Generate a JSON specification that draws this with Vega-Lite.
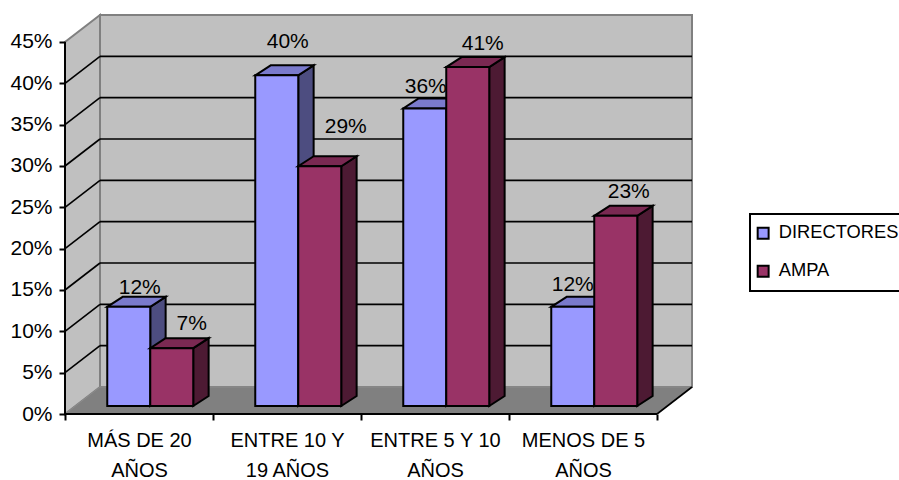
{
  "$schema": "https://vega.github.io/schema/vega-lite/v6.json",
  "width": 627,
  "height": 399,
  "autosize": {"type": "none"},
  "padding": {"left": 65, "top": 15, "right": 207, "bottom": 66},
  "background": "white",
  "config": {
    "view": {"stroke": null},
    "font": "Liberation Sans",
    "legend": {"strokeWidth": 2}
  },
  "params": [
    {"name": "fondoX", "value": 0.2365},
    {"name": "fondoY", "value": 3.266},
    {"name": "anchoBarra", "value": 0.2905},
    {"name": "margenX", "value": 0.076},
    {"name": "margenY", "value": 0.968},
    {"name": "prisX", "value": 0.104},
    {"name": "prisY", "value": 1.21}
  ],
  "datasets": {
    "respuestas": [
      {"categoria": "MÁS DE 20 AÑOS", "serie": "DIRECTORES", "valor": 12},
      {"categoria": "MÁS DE 20 AÑOS", "serie": "AMPA", "valor": 7},
      {"categoria": "ENTRE 10 Y 19 AÑOS", "serie": "DIRECTORES", "valor": 40},
      {"categoria": "ENTRE 10 Y 19 AÑOS", "serie": "AMPA", "valor": 29},
      {"categoria": "ENTRE 5 Y 10 AÑOS", "serie": "DIRECTORES", "valor": 36},
      {"categoria": "ENTRE 5 Y 10 AÑOS", "serie": "AMPA", "valor": 41},
      {"categoria": "MENOS DE 5 AÑOS", "serie": "DIRECTORES", "valor": 12},
      {"categoria": "MENOS DE 5 AÑOS", "serie": "AMPA", "valor": 23}
    ],
    "marco": [{"cara": "caja"}],
    "rejilla": [{"pct": 5}, {"pct": 10}, {"pct": 15}, {"pct": 20}, {"pct": 25}, {"pct": 30}, {"pct": 35}, {"pct": 40}]
  },
  "encoding": {
    "x": {
      "field": "gx",
      "type": "quantitative",
      "title": null,
      "scale": {"domain": [0, 4.2365], "nice": false, "zero": false},
      "axis": {
        "zindex": 1,
        "domain": false,
        "grid": false,
        "values": [0, 0.5, 1, 1.5, 2, 2.5, 3, 3.5, 4],
        "labelExpr": "datum.value==0.5?['MÁS DE 20','AÑOS']:datum.value==1.5?['ENTRE 10 Y','19 AÑOS']:datum.value==2.5?['ENTRE 5 Y 10','AÑOS']:datum.value==3.5?['MENOS DE 5','AÑOS']:''",
        "labelFontSize": 20,
        "labelColor": "black",
        "labelAngle": 0,
        "labelAlign": "center",
        "labelBaseline": "top",
        "labelLineHeight": 30,
        "labelOverlap": false,
        "labelBound": false,
        "labelFlush": false,
        "labelPadding": 10,
        "labelLimit": 300,
        "tickColor": "black",
        "tickWidth": 2,
        "tickSize": 6,
        "tickOpacity": {"condition": {"test": "datum.value%1==0", "value": 1}, "value": 0}
      }
    },
    "y": {
      "field": "gy",
      "type": "quantitative",
      "title": null,
      "scale": {"domain": [0, 48.266], "nice": false, "zero": false},
      "axis": {
        "zindex": 1,
        "domain": false,
        "grid": false,
        "values": [0, 5, 10, 15, 20, 25, 30, 35, 40, 45],
        "labelExpr": "datum.value+'%'",
        "labelFontSize": 21,
        "labelColor": "black",
        "labelOverlap": false,
        "labelBound": false,
        "labelFlush": false,
        "labelPadding": 7,
        "tickColor": "black",
        "tickWidth": 2,
        "tickSize": 6
      }
    }
  },
  "layer": [
    {
      "data": {"name": "marco"},
      "transform": [
        {"calculate": "fondoX", "as": "gx"},
        {"calculate": "4+fondoX", "as": "gx2"},
        {"calculate": "fondoY", "as": "gy"},
        {"calculate": "45+fondoY", "as": "gy2"}
      ],
      "mark": {"type": "rect", "fill": "#C0C0C0", "stroke": "#808080", "strokeWidth": 2},
      "encoding": {"x2": {"field": "gx2"}, "y2": {"field": "gy2"}}
    },
    {
      "data": {"name": "marco"},
      "transform": [
        {"calculate": "[0,1]", "as": "t"},
        {"flatten": ["t"]},
        {"calculate": "datum.t*fondoX", "as": "gx"},
        {"calculate": "datum.t*fondoY", "as": "gy"},
        {"calculate": "45+datum.t*fondoY", "as": "gy2"}
      ],
      "mark": {"type": "area", "orient": "vertical", "fill": "#C0C0C0", "stroke": "#808080", "strokeWidth": 2, "opacity": 1},
      "encoding": {"y2": {"field": "gy2"}}
    },
    {
      "data": {"name": "marco"},
      "transform": [
        {"calculate": "[0,1]", "as": "t"},
        {"flatten": ["t"]},
        {"calculate": "datum.t*fondoX", "as": "gx"},
        {"calculate": "4+datum.t*fondoX", "as": "gx2"},
        {"calculate": "datum.t*fondoY", "as": "gy"}
      ],
      "mark": {"type": "area", "orient": "horizontal", "fill": "#808080", "stroke": "#8C8C8C", "strokeWidth": 1, "opacity": 1},
      "encoding": {"x2": {"field": "gx2"}}
    },
    {
      "data": {"name": "rejilla"},
      "transform": [
        {"calculate": "0", "as": "gx"},
        {"calculate": "fondoX", "as": "gx2"},
        {"calculate": "datum.pct", "as": "gy"},
        {"calculate": "datum.pct+fondoY", "as": "gy2"}
      ],
      "mark": {"type": "rule", "color": "black", "strokeWidth": 1.6},
      "encoding": {"x2": {"field": "gx2"}, "y2": {"field": "gy2"}}
    },
    {
      "data": {"name": "rejilla"},
      "transform": [
        {"calculate": "fondoX", "as": "gx"},
        {"calculate": "4+fondoX", "as": "gx2"},
        {"calculate": "datum.pct+fondoY", "as": "gy"}
      ],
      "mark": {"type": "rule", "color": "black", "strokeWidth": 1.6},
      "encoding": {"x2": {"field": "gx2"}}
    },
    {
      "data": {"name": "marco"},
      "transform": [
        {"calculate": "4", "as": "gx"},
        {"calculate": "4+fondoX", "as": "gx2"},
        {"calculate": "0", "as": "gy"},
        {"calculate": "fondoY", "as": "gy2"}
      ],
      "mark": {"type": "rule", "color": "black", "strokeWidth": 1.6},
      "encoding": {"x2": {"field": "gx2"}, "y2": {"field": "gy2"}}
    },
    {
      "data": {"name": "marco"},
      "transform": [
        {"calculate": "0", "as": "gx"},
        {"calculate": "4", "as": "gx2"},
        {"calculate": "0", "as": "gy"}
      ],
      "mark": {"type": "rule", "color": "black", "strokeWidth": 2},
      "encoding": {"x2": {"field": "gx2"}}
    },
    {
      "data": {"name": "marco"},
      "transform": [
        {"calculate": "0", "as": "gx"},
        {"calculate": "0", "as": "gy"},
        {"calculate": "45", "as": "gy2"}
      ],
      "mark": {"type": "rule", "color": "black", "strokeWidth": 2},
      "encoding": {"y2": {"field": "gy2"}}
    },
    {
      "data": {"name": "respuestas"},
      "transform": [
        {"calculate": "indexof(['MÁS DE 20 AÑOS','ENTRE 10 Y 19 AÑOS','ENTRE 5 Y 10 AÑOS','MENOS DE 5 AÑOS'],datum.categoria)", "as": "i"},
        {"calculate": "datum.serie=='AMPA'?1:0", "as": "s"},
        {"calculate": "datum.i+0.5+(datum.s-1)*anchoBarra+margenX", "as": "xIzq"},
        {"calculate": "datum.xIzq+anchoBarra", "as": "xDer"},
        {"calculate": "[0,1]", "as": "t"},
        {"flatten": ["t"]},
        {"calculate": "margenY+datum.t*prisY", "as": "base"},
        {"calculate": "datum.base+datum.valor", "as": "cima"}
      ],
      "layer": [
        {
          "transform": [
            {"filter": "datum.serie=='DIRECTORES'"},
            {"calculate": "datum.xDer+datum.t*prisX", "as": "gx"},
            {"calculate": "datum.cima", "as": "gy"}
          ],
          "mark": {"type": "area", "orient": "vertical", "fill": "#4D4D80", "stroke": "black", "strokeWidth": 2, "opacity": 1},
          "encoding": {"detail": {"field": "categoria"}, "y2": {"field": "base"}}
        },
        {
          "transform": [
            {"filter": "datum.serie=='DIRECTORES'"},
            {"calculate": "datum.xIzq+datum.t*prisX", "as": "gx"},
            {"calculate": "datum.xDer+datum.t*prisX", "as": "gx2"},
            {"calculate": "datum.cima", "as": "gy"}
          ],
          "mark": {"type": "area", "orient": "horizontal", "fill": "#7A7ACC", "stroke": "black", "strokeWidth": 2, "opacity": 1},
          "encoding": {"detail": {"field": "categoria"}, "x2": {"field": "gx2"}}
        },
        {
          "transform": [
            {"filter": "datum.serie=='DIRECTORES' && datum.t==0"},
            {"calculate": "datum.xIzq", "as": "gx"},
            {"calculate": "datum.cima", "as": "gy"}
          ],
          "mark": {"type": "rect", "stroke": "black", "strokeWidth": 2},
          "encoding": {
            "x2": {"field": "xDer"},
            "y2": {"field": "base"},
            "color": {
              "field": "serie",
              "type": "nominal",
              "scale": {"domain": ["DIRECTORES", "AMPA"], "range": ["#9999FF", "#993366"]},
              "legend": {
                "orient": "none",
                "legendX": 685,
                "legendY": 199,
                "title": null,
                "strokeColor": "black",
                "fillColor": "white",
                "padding": 10,
                "symbolType": "square",
                "symbolSize": 120,
                "symbolOffset": -6,
                "symbolStrokeColor": "black",
                "symbolStrokeWidth": 2,
                "labelFontSize": 18.3,
                "labelColor": "black",
                "labelLimit": 300,
                "labelOffset": 6.5,
                "rowPadding": 18
              }
            }
          }
        },
        {
          "transform": [
            {"filter": "datum.serie=='AMPA'"},
            {"calculate": "datum.xDer+datum.t*prisX", "as": "gx"},
            {"calculate": "datum.cima", "as": "gy"}
          ],
          "mark": {"type": "area", "orient": "vertical", "fill": "#4D1A33", "stroke": "black", "strokeWidth": 2, "opacity": 1},
          "encoding": {"detail": {"field": "categoria"}, "y2": {"field": "base"}}
        },
        {
          "transform": [
            {"filter": "datum.serie=='AMPA'"},
            {"calculate": "datum.xIzq+datum.t*prisX", "as": "gx"},
            {"calculate": "datum.xDer+datum.t*prisX", "as": "gx2"},
            {"calculate": "datum.cima", "as": "gy"}
          ],
          "mark": {"type": "area", "orient": "horizontal", "fill": "#7A2952", "stroke": "black", "strokeWidth": 2, "opacity": 1},
          "encoding": {"detail": {"field": "categoria"}, "x2": {"field": "gx2"}}
        },
        {
          "transform": [
            {"filter": "datum.serie=='AMPA' && datum.t==0"},
            {"calculate": "datum.xIzq", "as": "gx"},
            {"calculate": "datum.cima", "as": "gy"}
          ],
          "mark": {"type": "rect", "stroke": "black", "strokeWidth": 2},
          "encoding": {
            "x2": {"field": "xDer"},
            "y2": {"field": "base"},
            "color": {"field": "serie", "type": "nominal", "scale": {"domain": ["DIRECTORES", "AMPA"], "range": ["#9999FF", "#993366"]}}
          }
        },
        {
          "transform": [
            {"filter": "datum.t==0 && datum.i==0 && datum.s==0"},
            {"calculate": "(datum.xIzq+datum.xDer)/2", "as": "gx"},
            {"calculate": "datum.cima", "as": "gy"},
            {"calculate": "datum.valor+'%'", "as": "etiqueta"}
          ],
          "mark": {"type": "text", "fontSize": 21, "color": "black", "align": "center", "baseline": "alphabetic", "dx": 11, "dy": -13},
          "encoding": {"text": {"field": "etiqueta"}}
        },
        {
          "transform": [
            {"filter": "datum.t==0 && datum.i==0 && datum.s==1"},
            {"calculate": "(datum.xIzq+datum.xDer)/2", "as": "gx"},
            {"calculate": "datum.cima", "as": "gy"},
            {"calculate": "datum.valor+'%'", "as": "etiqueta"}
          ],
          "mark": {"type": "text", "fontSize": 21, "color": "black", "align": "center", "baseline": "alphabetic", "dx": 20, "dy": -18},
          "encoding": {"text": {"field": "etiqueta"}}
        },
        {
          "transform": [
            {"filter": "datum.t==0 && datum.i==1 && datum.s==0"},
            {"calculate": "(datum.xIzq+datum.xDer)/2", "as": "gx"},
            {"calculate": "datum.cima", "as": "gy"},
            {"calculate": "datum.valor+'%'", "as": "etiqueta"}
          ],
          "mark": {"type": "text", "fontSize": 21, "color": "black", "align": "center", "baseline": "alphabetic", "dx": 11, "dy": -27},
          "encoding": {"text": {"field": "etiqueta"}}
        },
        {
          "transform": [
            {"filter": "datum.t==0 && datum.i==1 && datum.s==1"},
            {"calculate": "(datum.xIzq+datum.xDer)/2", "as": "gx"},
            {"calculate": "datum.cima", "as": "gy"},
            {"calculate": "datum.valor+'%'", "as": "etiqueta"}
          ],
          "mark": {"type": "text", "fontSize": 21, "color": "black", "align": "center", "baseline": "alphabetic", "dx": 26, "dy": -33},
          "encoding": {"text": {"field": "etiqueta"}}
        },
        {
          "transform": [
            {"filter": "datum.t==0 && datum.i==2 && datum.s==0"},
            {"calculate": "(datum.xIzq+datum.xDer)/2", "as": "gx"},
            {"calculate": "datum.cima", "as": "gy"},
            {"calculate": "datum.valor+'%'", "as": "etiqueta"}
          ],
          "mark": {"type": "text", "fontSize": 21, "color": "black", "align": "center", "baseline": "alphabetic", "dx": 1, "dy": -15},
          "encoding": {"text": {"field": "etiqueta"}}
        },
        {
          "transform": [
            {"filter": "datum.t==0 && datum.i==2 && datum.s==1"},
            {"calculate": "(datum.xIzq+datum.xDer)/2", "as": "gx"},
            {"calculate": "datum.cima", "as": "gy"},
            {"calculate": "datum.valor+'%'", "as": "etiqueta"}
          ],
          "mark": {"type": "text", "fontSize": 21, "color": "black", "align": "center", "baseline": "alphabetic", "dx": 15, "dy": -17},
          "encoding": {"text": {"field": "etiqueta"}}
        },
        {
          "transform": [
            {"filter": "datum.t==0 && datum.i==3 && datum.s==0"},
            {"calculate": "(datum.xIzq+datum.xDer)/2", "as": "gx"},
            {"calculate": "datum.cima", "as": "gy"},
            {"calculate": "datum.valor+'%'", "as": "etiqueta"}
          ],
          "mark": {"type": "text", "fontSize": 21, "color": "black", "align": "center", "baseline": "alphabetic", "dx": 0, "dy": -16},
          "encoding": {"text": {"field": "etiqueta"}}
        },
        {
          "transform": [
            {"filter": "datum.t==0 && datum.i==3 && datum.s==1"},
            {"calculate": "(datum.xIzq+datum.xDer)/2", "as": "gx"},
            {"calculate": "datum.cima", "as": "gy"},
            {"calculate": "datum.valor+'%'", "as": "etiqueta"}
          ],
          "mark": {"type": "text", "fontSize": 21, "color": "black", "align": "center", "baseline": "alphabetic", "dx": 13, "dy": -18},
          "encoding": {"text": {"field": "etiqueta"}}
        }
      ]
    }
  ]
}
